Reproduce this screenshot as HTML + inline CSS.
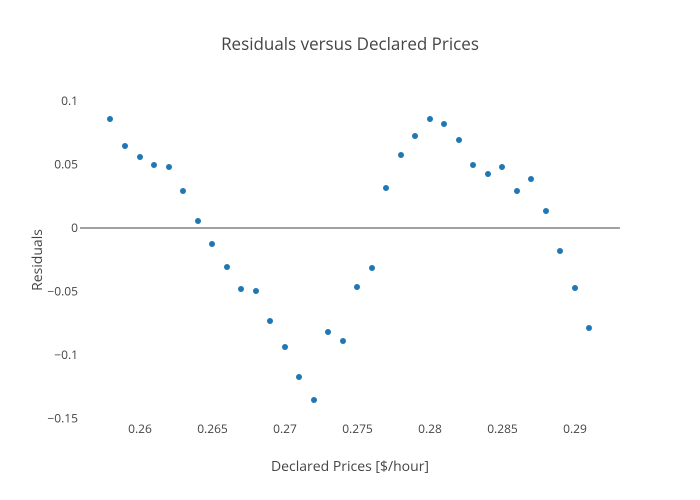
<!DOCTYPE html>
<html><head><meta charset="utf-8"><style>
body{margin:0;background:#fff}
svg{display:block;font-family:"Open Sans","Liberation Sans",sans-serif}
</style></head><body>
<svg width="700" height="500" viewBox="0 0 700 500">
<rect width="700" height="500" fill="#fff"/>
<line x1="80" y1="228" x2="620" y2="228" stroke="#444" stroke-width="1"/>
<text x="350" y="50" text-anchor="middle" font-size="17" fill="#444">Residuals versus Declared Prices</text>
<g font-size="12" fill="#444" text-anchor="end">
<text x="78" y="105">0.1</text>
<text x="78" y="168.5">0.05</text>
<text x="78" y="232">0</text>
<text x="78" y="295.5">−0.05</text>
<text x="78" y="359">−0.1</text>
<text x="78" y="422.5">−0.15</text>
</g>
<g font-size="12" fill="#444" text-anchor="middle">
<text x="140" y="433">0.26</text>
<text x="212.5" y="433">0.265</text>
<text x="285" y="433">0.27</text>
<text x="357.5" y="433">0.275</text>
<text x="430" y="433">0.28</text>
<text x="502.5" y="433">0.285</text>
<text x="575" y="433">0.29</text>
</g>
<text x="350" y="471" text-anchor="middle" font-size="14" fill="#444">Declared Prices [$/hour]</text>
<text transform="translate(42,260) rotate(-90)" text-anchor="middle" font-size="14" fill="#444">Residuals</text>
<g fill="#1f77b4">
<circle cx="110" cy="119" r="3"/><circle cx="125" cy="146" r="3"/><circle cx="140" cy="157" r="3"/><circle cx="154" cy="165" r="3"/><circle cx="169" cy="167" r="3"/><circle cx="183" cy="191" r="3"/><circle cx="198" cy="221" r="3"/><circle cx="212" cy="244" r="3"/><circle cx="227" cy="267" r="3"/><circle cx="241" cy="289" r="3"/><circle cx="256" cy="291" r="3"/><circle cx="270" cy="321" r="3"/><circle cx="285" cy="347" r="3"/><circle cx="299" cy="377" r="3"/><circle cx="314" cy="400" r="3"/><circle cx="328" cy="332" r="3"/><circle cx="343" cy="341" r="3"/><circle cx="357" cy="287" r="3"/><circle cx="372" cy="268" r="3"/><circle cx="386" cy="188" r="3"/><circle cx="401" cy="155" r="3"/><circle cx="415" cy="136" r="3"/><circle cx="430" cy="119" r="3"/><circle cx="444" cy="124" r="3"/><circle cx="459" cy="140" r="3"/><circle cx="473" cy="165" r="3"/><circle cx="488" cy="174" r="3"/><circle cx="502" cy="167" r="3"/><circle cx="517" cy="191" r="3"/><circle cx="531" cy="179" r="3"/><circle cx="546" cy="211" r="3"/><circle cx="560" cy="251" r="3"/><circle cx="575" cy="288" r="3"/><circle cx="589" cy="328" r="3"/>
</g>
</svg>
</body></html>
